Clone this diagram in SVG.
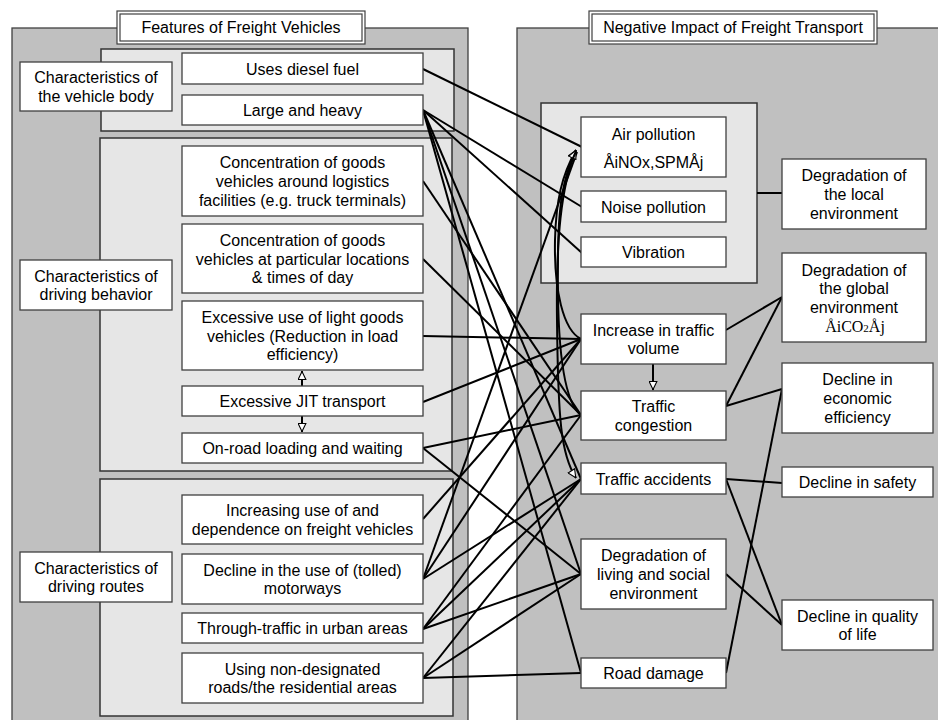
<svg xmlns="http://www.w3.org/2000/svg" width="938" height="720" viewBox="0 0 938 720">
<style>
.panel{fill:#c0c0c0;stroke:#404040;stroke-width:1.3}
.sec{fill:#e6e6e6;stroke:#333;stroke-width:1.5}
.box{fill:#fff;stroke:#404040;stroke-width:1.3}
.t{font-family:"Liberation Sans",Arial,sans-serif;font-size:16px;text-anchor:middle;fill:#000}
.s{font-family:"Liberation Serif","Times New Roman",serif;font-size:16px;text-anchor:middle;fill:#000}
.ln{stroke:#000;stroke-width:2;fill:none}
</style>
<defs>
<marker id="oa" viewBox="0 0 10 10" refX="10" refY="5" markerWidth="10" markerHeight="9" markerUnits="userSpaceOnUse" orient="auto">
<path d="M0.5,0.7 L9.5,5 L0.5,9.3 Z" fill="#fff" stroke="#000" stroke-width="1.2"/>
</marker>
</defs>
<rect width="938" height="720" fill="#fff"/>
<g id="panel-left">
<rect class="panel" x="12" y="28" width="456" height="700"/>
</g>
<g id="panel-right">
<rect class="panel" x="517" y="28" width="430" height="700"/>
</g>
<g id="sec-body"><rect class="sec" x="101" y="49" width="353" height="82"/></g>
<g id="sec-behavior"><rect class="sec" x="100" y="138" width="352" height="333"/></g>
<g id="sec-routes"><rect class="sec" x="100" y="479" width="353" height="237"/></g>
<g id="sec-local"><rect class="sec" x="541" y="103" width="216" height="180"/></g>

<g id="title-left">
<rect x="117" y="11" width="248" height="33" fill="#fff" stroke="#404040" stroke-width="1.2"/>
<rect x="120" y="14" width="242" height="27" fill="none" stroke="#404040" stroke-width="1.2"/>
<text class="t" x="241" y="33">Features of Freight Vehicles</text>
</g>
<g id="title-right">
<rect x="589" y="11" width="288" height="33" fill="#fff" stroke="#404040" stroke-width="1.2"/>
<rect x="592" y="14" width="282" height="27" fill="none" stroke="#404040" stroke-width="1.2"/>
<text class="t" x="733" y="33">Negative Impact of Freight Transport</text>
</g>

<g id="connectors">
<path class="ln" d="M423,69 L582,147"/>
<path class="ln" d="M423,110 L582,207"/>
<path class="ln" d="M423,110 L582,253"/>
<path class="ln" d="M423,110 L581,479"/>
<path class="ln" d="M423,110 L581,574"/>
<path class="ln" d="M423,110 L581,673"/>
<path class="ln" d="M423,181 L581,415"/>
<path class="ln" d="M423,259 L581,415"/>
<path class="ln" d="M423,336 L581,339"/>
<path class="ln" d="M423,402 L581,339"/>
<path class="ln" d="M423,448 L581,415"/>
<path class="ln" d="M423,448 L581,574"/>
<path class="ln" d="M423,519 L581,339"/>
<path class="ln" d="M423,579 L577,152"/>
<path class="ln" d="M423,579 L581,339"/>
<path class="ln" d="M423,579 L581,479"/>
<path class="ln" d="M423,629 L581,415"/>
<path class="ln" d="M423,629 L581,479"/>
<path class="ln" d="M423,629 L581,574"/>
<path class="ln" d="M423,678 L581,479"/>
<path class="ln" d="M423,678 L581,574"/>
<path class="ln" d="M423,678 L581,673"/>
<path class="ln" d="M581,339 C563,330 554,290 555,240 C556,200 562,175 576,150" marker-end="url(#oa)"/>
<path class="ln" d="M581,415 C561,400 557,330 558,260 C558,205 563,178 576,150" marker-end="url(#oa)"/>
<path class="ln" d="M576,151 C561,185 556,240 557,320 C558,420 561,455 576,478" marker-end="url(#oa)"/>
<path class="ln" d="M302,386 L302,371" marker-end="url(#oa)"/>
<path class="ln" d="M302,416 L302,432" marker-end="url(#oa)"/>
<path class="ln" d="M653,364 L653,390" marker-end="url(#oa)"/>
<path class="ln" d="M757,193 L782,193"/>
<path class="ln" d="M726,330 L782,297"/>
<path class="ln" d="M726,406 L782,297"/>
<path class="ln" d="M726,406 L782,389"/>
<path class="ln" d="M726,479 L782,483"/>
<path class="ln" d="M726,479 L782,625"/>
<path class="ln" d="M726,574 L782,625"/>
<path class="ln" d="M726,673 L782,389"/>
</g>

<g id="cat-body"><rect class="box" x="20" y="62" width="152" height="49"/>
<text class="t" x="96" y="83.2">Characteristics of</text><text class="t" x="96" y="101.9">the vehicle body</text></g>
<g id="cat-behavior"><rect class="box" x="20" y="260" width="152" height="50"/>
<text class="t" x="96" y="281.7">Characteristics of</text><text class="t" x="96" y="300.4">driving behavior</text></g>
<g id="cat-routes"><rect class="box" x="20" y="552" width="152" height="50"/>
<text class="t" x="96" y="573.7">Characteristics of</text><text class="t" x="96" y="592.4">driving routes</text></g>

<g id="f-diesel"><rect class="box" x="182" y="53" width="241" height="31"/>
<text class="t" x="302.5" y="74.5">Uses diesel fuel</text></g>
<g id="f-large"><rect class="box" x="182" y="95" width="241" height="30"/>
<text class="t" x="302.5" y="116">Large and heavy</text></g>
<g id="f-logistics"><rect class="box" x="182" y="146" width="241" height="70"/>
<text class="t" x="302.5" y="168.3">Concentration of goods</text><text class="t" x="302.5" y="187">vehicles around logistics</text><text class="t" x="302.5" y="205.7">facilities (e.g. truck terminals)</text></g>
<g id="f-locations"><rect class="box" x="182" y="224" width="241" height="69"/>
<text class="t" x="302.5" y="245.8">Concentration of goods</text><text class="t" x="302.5" y="264.5">vehicles at particular locations</text><text class="t" x="302.5" y="283.2">&amp; times of day</text></g>
<g id="f-light"><rect class="box" x="182" y="301" width="241" height="69"/>
<text class="t" x="302.5" y="322.8">Excessive use of light goods</text><text class="t" x="302.5" y="341.5">vehicles (Reduction in load</text><text class="t" x="302.5" y="360.2">efficiency)</text></g>
<g id="f-jit"><rect class="box" x="182" y="386" width="241" height="30"/>
<text class="t" x="302.5" y="407">Excessive JIT transport</text></g>
<g id="f-onroad"><rect class="box" x="182" y="433" width="241" height="30"/>
<text class="t" x="302.5" y="454">On-road loading and waiting</text></g>
<g id="f-increasing"><rect class="box" x="182" y="495" width="241" height="49"/>
<text class="t" x="302.5" y="516.2">Increasing use of and</text><text class="t" x="302.5" y="534.9">dependence on freight vehicles</text></g>
<g id="f-tolled"><rect class="box" x="182" y="554" width="241" height="50"/>
<text class="t" x="302.5" y="575.7">Decline in the use of (tolled)</text><text class="t" x="302.5" y="594.4">motorways</text></g>
<g id="f-through"><rect class="box" x="182" y="613" width="241" height="30"/>
<text class="t" x="302.5" y="634">Through-traffic in urban areas</text></g>
<g id="f-nondesignated"><rect class="box" x="182" y="653" width="241" height="50"/>
<text class="t" x="302.5" y="674.7">Using non-designated</text><text class="t" x="302.5" y="693.4">roads/the residential areas</text></g>

<g id="i-air"><rect class="box" x="581" y="117" width="145" height="60"/>
<text class="t" x="653.5" y="140">Air pollution</text>
<text class="t" x="653.5" y="168">ÅiNOx,SPMÅj</text></g>
<g id="i-noise"><rect class="box" x="581" y="191" width="145" height="31"/>
<text class="t" x="653.5" y="212.5">Noise pollution</text></g>
<g id="i-vibration"><rect class="box" x="581" y="237" width="145" height="30"/>
<text class="t" x="653.5" y="258">Vibration</text></g>
<g id="i-volume"><rect class="box" x="581" y="314" width="145" height="50"/>
<text class="t" x="653.5" y="335.7">Increase in traffic</text><text class="t" x="653.5" y="354.4">volume</text></g>
<g id="i-congestion"><rect class="box" x="581" y="391" width="145" height="49"/>
<text class="t" x="653.5" y="412.2">Traffic</text><text class="t" x="653.5" y="430.9">congestion</text></g>
<g id="i-accidents"><rect class="box" x="581" y="463" width="145" height="31"/>
<text class="t" x="653.5" y="484.5">Traffic accidents</text></g>
<g id="i-living"><rect class="box" x="581" y="539" width="145" height="70"/>
<text class="t" x="653.5" y="561.3">Degradation of</text><text class="t" x="653.5" y="580">living and social</text><text class="t" x="653.5" y="598.7">environment</text></g>
<g id="i-road"><rect class="box" x="581" y="658" width="145" height="30"/>
<text class="t" x="653.5" y="679">Road damage</text></g>

<g id="r-local"><rect class="box" x="782" y="159" width="144" height="70"/>
<text class="t" x="854" y="181.3">Degradation of</text><text class="t" x="854" y="200">the local</text><text class="t" x="854" y="218.7">environment</text></g>
<g id="r-global"><rect class="box" x="782" y="253" width="144" height="89"/>
<text class="t" x="854" y="275.5">Degradation of</text><text class="t" x="854" y="294.1">the global</text><text class="t" x="854" y="312.9">environment</text>
<text class="s" x="855" y="331.6">ÅiCO<tspan font-size="11">2</tspan>Åj</text></g>
<g id="r-economic"><rect class="box" x="782" y="363" width="151" height="70"/>
<text class="t" x="857.5" y="385.3">Decline in</text><text class="t" x="857.5" y="404">economic</text><text class="t" x="857.5" y="422.7">efficiency</text></g>
<g id="r-safety"><rect class="box" x="782" y="467" width="151" height="30"/>
<text class="t" x="857.5" y="488">Decline in safety</text></g>
<g id="r-quality"><rect class="box" x="782" y="600" width="151" height="50"/>
<text class="t" x="857.5" y="621.7">Decline in quality</text><text class="t" x="857.5" y="640.4">of life</text></g>
</svg>
